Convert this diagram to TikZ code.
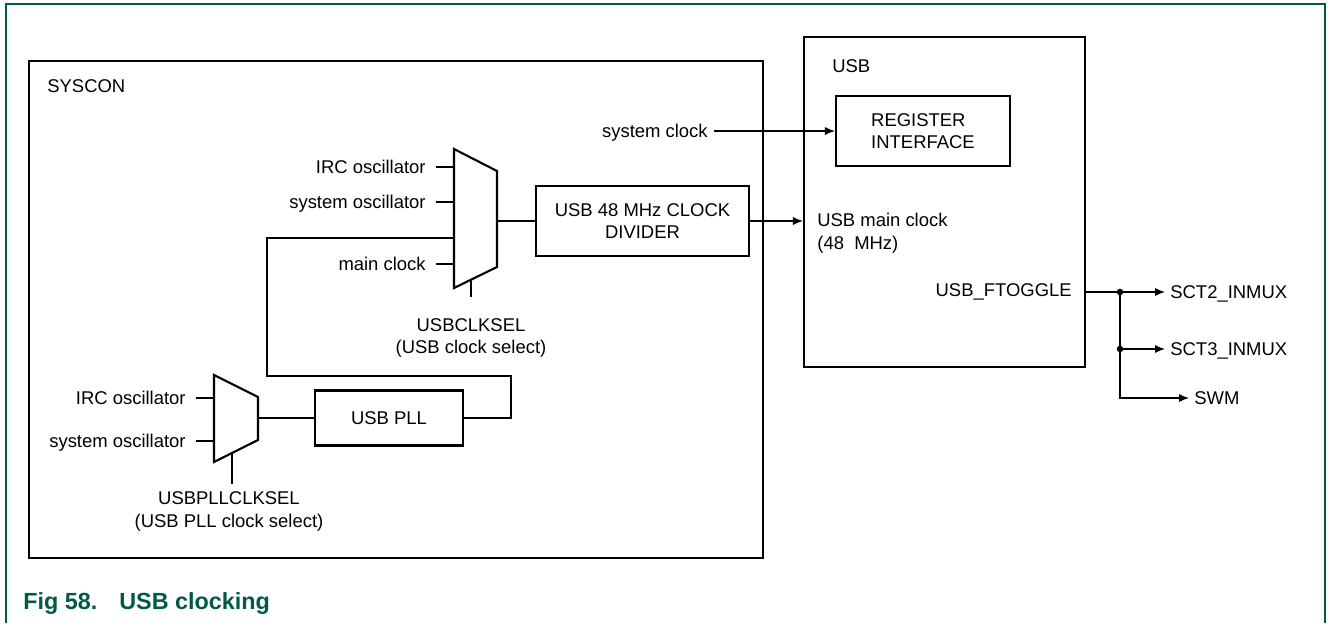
\documentclass[tikz,border=0pt]{standalone}
\usepackage{fontspec}
\setmainfont{Liberation Sans}
\usetikzlibrary{arrows.meta}
\definecolor{nxpgreen}{RGB}{0,90,70}

\begin{document}
\begin{tikzpicture}[
    x=0.02cm, y=-0.02cm,
    font=\fontsize{10.5}{12.8}\selectfont,
    block/.style={draw, line width=1.2pt, align=center, inner sep=0pt},
    txt/.style={inner sep=0pt},
    lbl/.style={inner xsep=0.2cm, inner ysep=0pt, text height=1.6ex, text depth=0.3ex},
    outlbl/.style={lbl, anchor=west, inner xsep=0.1cm},
    mux/.style={draw, line width=1.2pt, line join=miter},
    wire/.style={line width=0.6pt},
    arrow/.style={wire, -{Latex[length=0.2cm, width=0.16cm]}}
]

\useasboundingbox (0,0) rectangle (1328,623);
\draw[nxpgreen, line width=0.8pt] (6,623) -- (6,4) -- (1325,4) -- (1325,623);

\node[block, minimum width=14.68cm, minimum height=9.94cm] (syscon) at (396,309.5) {};
\node[txt, anchor=west] (sysconlbl) at (47,86) {SYSCON};
\node[block, minimum width=5.62cm, minimum height=6.6cm] (usb) at (944.5,202) {};
\node[txt, anchor=west] (usblbl) at (832,66) {USB};

\node[block, align=left, minimum width=3.48cm, minimum height=1.4cm] (reg) at (923,131) {REGISTER\\INTERFACE};
\node[block, minimum width=4.26cm, minimum height=1.4cm] (div) at (642.5,221) {USB 48 MHz CLOCK\\DIVIDER};
\node[block, minimum width=2.96cm, minimum height=1.1cm] (pll) at (389,418) {USB PLL};

\draw[mux] (454,149) -- (497,171) -- (497,267) -- (454,288) -- cycle;
\coordinate (m1in1) at (454,167);
\coordinate (m1in2) at (454,202);
\coordinate (m1in3) at (454,238);
\coordinate (m1in4) at (454,264);
\coordinate (m1out) at (497,221);
\coordinate (m1sel) at (471,279.7);
\coordinate (m1selend) at (471,297);

\draw[mux] (214,375) -- (258,397) -- (258,440) -- (214,462) -- cycle;
\coordinate (m2in1) at (214,398);
\coordinate (m2in2) at (214,441);
\coordinate (m2out) at (258,418);
\coordinate (m2sel) at (232,453);
\coordinate (m2selend) at (232,484);

\node[lbl, anchor=east] (irc1) at (436,167) {IRC oscillator};
\node[lbl, anchor=east] (osc1) at (436,202) {system oscillator};
\node[lbl, anchor=east] (main) at (436,264) {main clock};
\node[lbl, anchor=east] (irc2) at (196,398) {IRC oscillator};
\node[lbl, anchor=east] (osc2) at (196,441) {system oscillator};
\node[lbl, anchor=east, inner xsep=0.12cm] (sysclk) at (714,131) {system clock};

\node[txt, align=center] (clksel) at (471,338) {USBCLKSEL\\(USB clock select)};
\node[txt, align=center] (pllsel) at (229,511.5) {USBPLLCLKSEL\\(USB PLL clock select)};
\node[txt, align=left, anchor=west] (usbclk) at (817,233) {USB main clock\\(48\ \ MHz)};
\node[txt, anchor=east] (ftog) at (1072,292) {USB\_FTOGGLE};

\node[outlbl] (sct2) at (1165,292) {SCT2\_INMUX};
\node[outlbl] (sct3) at (1165,349) {SCT3\_INMUX};
\node[outlbl] (swm) at (1189,398) {SWM};
\coordinate (j1) at (1120,292);
\coordinate (j2) at (1120,349);

\draw[wire] (irc1.east) -- (m1in1);
\draw[wire] (osc1.east) -- (m1in2);
\draw[wire] (main.east) -- (m1in4);
\draw[wire] (irc2.east) -- (m2in1);
\draw[wire] (osc2.east) -- (m2in2);
\draw[wire] (m1sel) -- (m1selend);
\draw[wire] (m2sel) -- (m2selend);
\draw[wire] (m1out) -- (div.west);
\draw[wire] (m2out) -- (pll.west);

\coordinate (fb1) at (511,376);
\coordinate (fb2) at (267,376);
\draw[wire] (pll.east) -| (fb1) -- (fb2) |- (m1in3);

\draw[arrow] (sysclk.east) -- (reg.west);
\draw[arrow] (div.east) -- (div.east -| usb.west);
\draw[arrow] (usb.east |- ftog) -- (sct2.west);
\draw[arrow] (j2) -- (sct3.west);
\draw[arrow] (j1) |- (swm.west);
\fill (j1) circle (0.065cm);
\fill (j2) circle (0.065cm);

\node[txt, anchor=west, text=nxpgreen, font=\fontsize{13.3}{16}\selectfont\bfseries] (caption) at (23,603) {Fig 58.\hspace{0.44cm}USB clocking};

\end{tikzpicture}
\end{document}
